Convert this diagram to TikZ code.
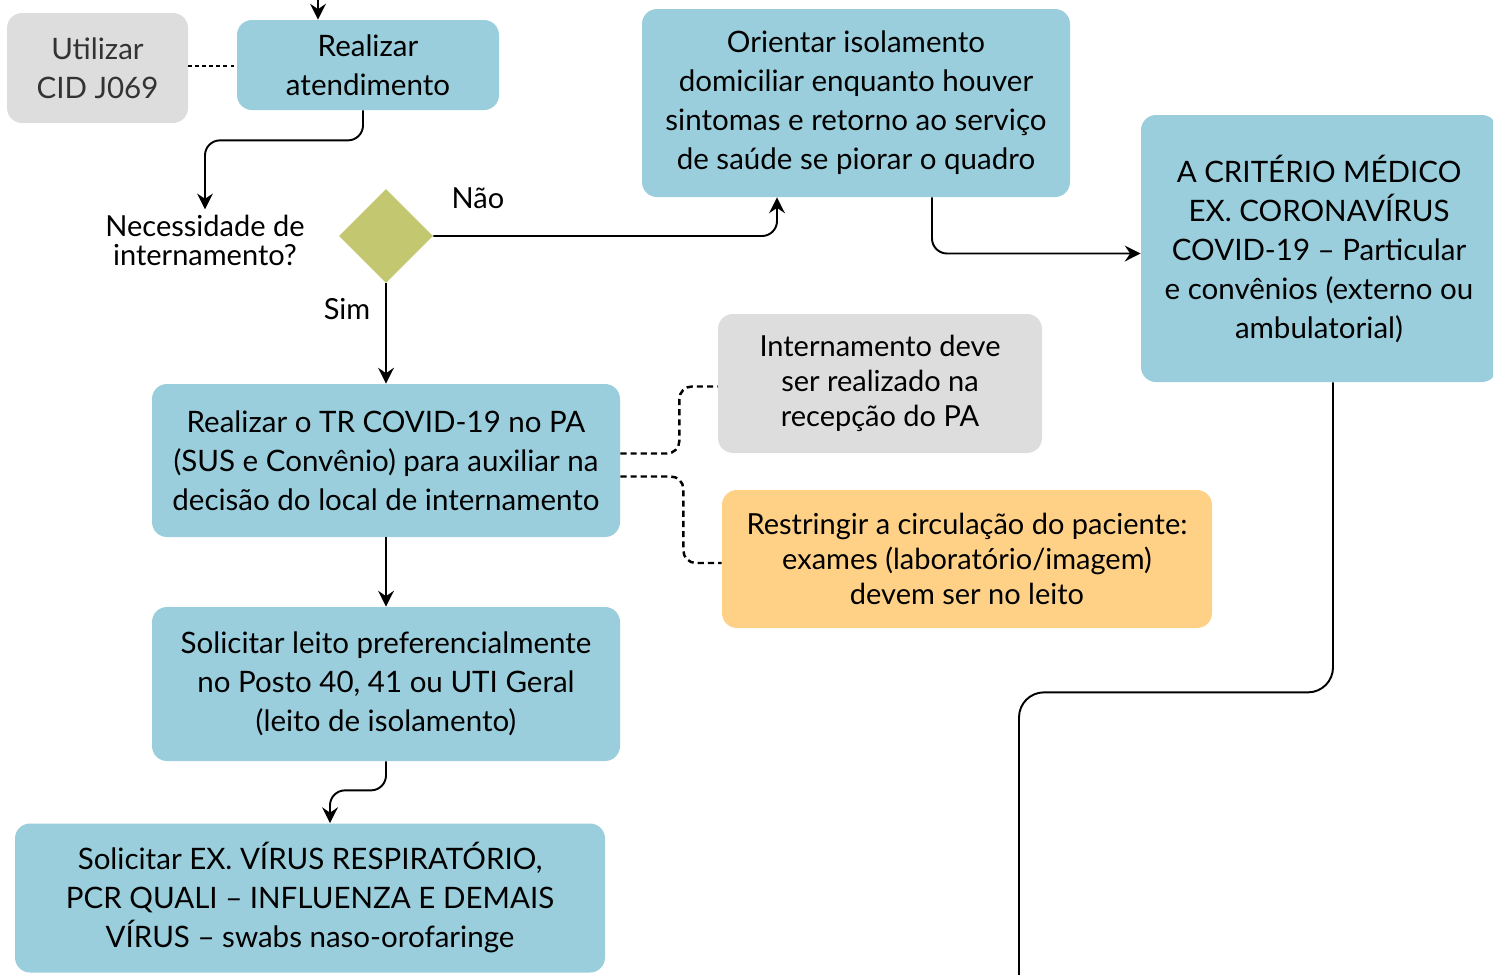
\documentclass[tikz,border=0pt]{standalone}
\usepackage{fontspec}
\setmainfont{Lato}
\usetikzlibrary{shapes.geometric,arrows.meta}

\definecolor{boxblue}{HTML}{9ACEDC}
\definecolor{boxgray}{HTML}{DDDDDD}
\definecolor{boxorange}{HTML}{FFD186}
\definecolor{decgreen}{HTML}{C3C870}

\def\px{0.02cm}

\begin{document}
\begin{tikzpicture}[x=0.02cm,y=-0.02cm,
    box/.style={rounded corners=0.3cm, align=center, inner sep=0pt,
        font=\fontsize{16.8}{22.2}\selectfont},
    bluebox/.style={box, fill=boxblue},
    graybox/.style={box, fill=boxgray},
    orangebox/.style={box, fill=boxorange},
    flow/.style={line width=1.1pt, -{Stealth[length=9pt,width=9pt,inset=3pt]}, rounded corners=0.3cm},
    dashlink/.style={line width=1.4pt, dash pattern=on 3.5pt off 2.3pt, rounded corners=0.25cm}
]

\useasboundingbox (0,0) rectangle (1493,974);

% Boxes
\node[graybox, text=black!80, minimum width=181*\px, minimum height=110*\px] (util) at (97.5,68) {Utilizar\\CID J069};
\node[bluebox, minimum width=262*\px, minimum height=90*\px] (atend) at (368,65) {Realizar\\atendimento};
\node[bluebox, minimum width=428*\px, minimum height=188*\px] (orient) at (856,103)
    {Orientar isolamento\\domiciliar enquanto houver\\sintomas e retorno ao serviço\\de saúde se piorar o quadro};
\node[bluebox, minimum width=356*\px, minimum height=267*\px] (crit) at (1319,248.5)
    {A CRITÉRIO MÉDICO\\EX. CORONAVÍRUS\\COVID-19 -- Particular\\e convênios (externo ou\\ambulatorial)};

% Decision
\node[align=center, inner sep=0pt, font=\fontsize{16.5}{16.5}\selectfont] (quest) at (205,240) {Necessidade de\\internamento?};
\node[diamond, fill=decgreen, minimum width=94*\px, minimum height=94*\px, inner sep=0pt] (decide) at (386,236) {};
\node[font=\fontsize{16.5}{20}\selectfont] (nao) at (478,198) {Não};
\node[font=\fontsize{16.5}{20}\selectfont] (sim) at (347,309) {Sim};

\node[bluebox, minimum width=468*\px, minimum height=153*\px] (tr) at (386,460.5)
    {Realizar o TR COVID-19 no PA\\(SUS e Convênio) para auxiliar na\\decisão do local de internamento};
\node[graybox, minimum width=324*\px, minimum height=139*\px, font=\fontsize{16.5}{20}\selectfont] (intern) at (880,383.5)
    {Internamento deve\\ser realizado na\\recepção do PA};
\node[orangebox, minimum width=490*\px, minimum height=138*\px, font=\fontsize{16.5}{20}\selectfont] (restr) at (967,559)
    {Restringir a circulação do paciente:\\exames (laboratório/imagem)\\devem ser no leito};
\node[bluebox, minimum width=468*\px, minimum height=154*\px] (leito) at (386,684)
    {Solicitar leito preferencialmente\\no Posto 40, 41 ou UTI Geral\\(leito de isolamento)};
\node[bluebox, minimum width=590*\px, minimum height=149*\px] (exam) at (310,898)
    {Solicitar EX. VÍRUS RESPIRATÓRIO,\\PCR QUALI -- INFLUENZA E DEMAIS\\VÍRUS -- swabs naso-orofaringe};

% Free ends
\coordinate (entry) at (318,-5);
\coordinate (exit) at (1019,990);

% Connectors
\draw[flow] (entry) -- (atend.north -| entry);
\draw[line width=1.1pt, dash pattern=on 2pt off 2pt] (util.east |- 0,66) -- (atend.west |- 0,66);
\draw[flow] ([xshift=-5*\px]atend.south) -- ++(0,30) -| ([yshift=5*\px]quest.north);
\draw[flow] (decide.east) -| ([xshift=-79*\px]orient.south);
\draw[flow] ([xshift=76*\px]orient.south) |- ([yshift=-5*\px]crit.west);
\draw[line width=1.1pt, rounded corners=0.5cm] ([xshift=14*\px]crit.south) -- ++(0,310) -| (exit);
\draw[flow] (decide.south) -- (tr.north);
\draw[dashlink] ([yshift=7*\px]tr.east) -- ++(59,0) |- ([yshift=-3*\px]intern.west);
\draw[dashlink] ([yshift=-16*\px]tr.east) -- ++(63,0) |- ([yshift=-4*\px]restr.west);
\draw[flow] (tr.south) -- (leito.north);
\draw[flow] (leito.south) -- ++(0,29) -| ([xshift=20*\px]exam.north);

\end{tikzpicture}
\end{document}
